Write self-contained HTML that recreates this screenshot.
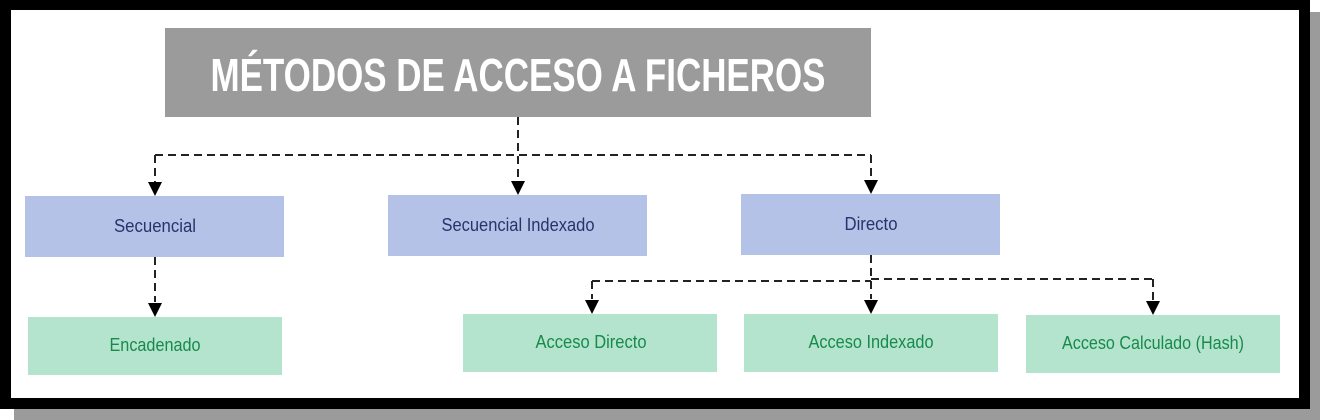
<!DOCTYPE html>
<html><head><meta charset="utf-8"><style>
html,body{margin:0;padding:0;background:#fff;}
</style></head><body>
<svg width="1320" height="420" xmlns="http://www.w3.org/2000/svg" style="display:block">
<rect x="14" y="12" width="1306" height="408" fill="#9b9b9b"/>
<rect x="0" y="0" width="1310" height="409" fill="#000"/>
<rect x="11" y="10" width="1288" height="388" fill="#fff"/>
<rect x="165" y="28" width="706" height="89" fill="#9b9b9b"/>
<text x="518" y="91" text-anchor="middle" font-family="Liberation Sans" font-weight="bold" font-size="46" fill="#fff" textLength="615" lengthAdjust="spacingAndGlyphs">MÉTODOS DE ACCESO A FICHEROS</text>
<g stroke="#222" stroke-width="2" stroke-dasharray="8,5" fill="none">
<path d="M518 117 V182"/>
<path d="M155 155 H871"/>
<path d="M155 155 V182"/>
<path d="M871 155 V180"/>
<path d="M155 257 V302"/>
<path d="M871 255 V299"/>
<path d="M592 281 H871"/>
<path d="M871 279 H1153"/>
<path d="M592 281 V299"/>
<path d="M1153 279 V300"/>
</g>
<g fill="#000">
<path d="M148 182 H162 L155 196Z"/>
<path d="M511 181 H525 L518 195Z"/>
<path d="M864 180 H878 L871 194Z"/>
<path d="M148 303 H162 L155 317Z"/>
<path d="M585 300 H599 L592 314Z"/>
<path d="M864 300 H878 L871 314Z"/>
<path d="M1146 301 H1160 L1153 315Z"/>
</g>
<g fill="#b4c2e7">
<rect x="25" y="196" width="259" height="61"/>
<rect x="388" y="195" width="259" height="61"/>
<rect x="741" y="194" width="259" height="61"/>
</g>
<g fill="#b4e4cd">
<rect x="28" y="317" width="254" height="58"/>
<rect x="463" y="314" width="254" height="58"/>
<rect x="744" y="314" width="254" height="58"/>
<rect x="1026" y="315" width="254" height="58"/>
</g>
<g font-family="Liberation Sans" font-size="18" text-anchor="middle" fill="#27346b">
<text x="155" y="232" textLength="82" lengthAdjust="spacingAndGlyphs">Secuencial</text>
<text x="518" y="231" textLength="153" lengthAdjust="spacingAndGlyphs">Secuencial Indexado</text>
<text x="871" y="230" textLength="53" lengthAdjust="spacingAndGlyphs">Directo</text>
</g>
<g font-family="Liberation Sans" font-size="18" text-anchor="middle" fill="#178a4c">
<text x="155" y="351" textLength="91" lengthAdjust="spacingAndGlyphs">Encadenado</text>
<text x="591" y="348" textLength="111" lengthAdjust="spacingAndGlyphs">Acceso Directo</text>
<text x="871" y="348" textLength="125" lengthAdjust="spacingAndGlyphs">Acceso Indexado</text>
<text x="1153" y="349" textLength="182" lengthAdjust="spacingAndGlyphs">Acceso Calculado (Hash)</text>
</g>
</svg>
</body></html>
